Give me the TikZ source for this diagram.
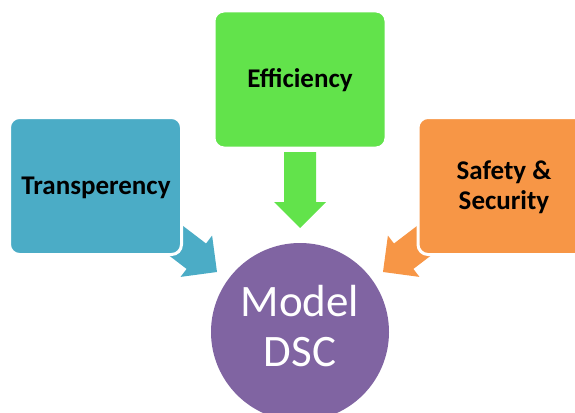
\documentclass[tikz,border=0pt]{standalone}
\usepackage{fontspec}
\setmainfont{Carlito}
\usetikzlibrary{calc}
\definecolor{cblue}{HTML}{4BACC6}
\definecolor{cgreen}{HTML}{62E34B}
\definecolor{corange}{HTML}{F79646}
\definecolor{cpurple}{HTML}{8064A2}
\newcommand{\blockarr}[3]{%
  \path ($(#2)!26pt!(#1)$) coordinate (hb);
  \fill[#3] (#2) -- ($(hb)!26pt!90:(#2)$) -- ($(hb)!16pt!90:(#2)$)
    -- ($(#1)!16pt!90:(hb)$) -- ($(#1)!16pt!-90:(hb)$)
    -- ($(hb)!16pt!-90:(#2)$) -- ($(hb)!26pt!-90:(#2)$) -- cycle;}
\tikzset{
  box/.style={draw=white, line width=3pt, rounded corners=10pt,
    minimum width=172pt, minimum height=137pt, inner sep=0pt},
  lbl/.style={font=\fontsize{27}{30}\selectfont\bfseries, text=black,
    align=center, anchor=base, inner sep=0pt},
}
\begin{document}
\begin{tikzpicture}[x=1pt, y=-1pt]
\useasboundingbox (0,0) rectangle (575,412);
\clip (0,0) rectangle (575,412);
% arrows (behind boxes)
\coordinate (bs) at (156.6,225.9);
\coordinate (bt) at (217,272);
\coordinate (gs) at (300,152);
\coordinate (gt) at (300,228);
\coordinate (os) at (443.4,225.9);
\coordinate (ot) at (383,272);
\blockarr{bs}{bt}{cblue}
\blockarr{gs}{gt}{cgreen}
\blockarr{os}{ot}{corange}
% boxes
\node[box, fill=cblue] (tb) at (95.5,186) {};
\node[box, fill=cgreen] (eb) at (300,79.5) {};
\node[box, fill=corange] (sb) at (504,186) {};
% circle
\node[circle, fill=cpurple, minimum size=178pt, inner sep=0pt] (mc) at (300,332) {};
% labels
\node[lbl] (tl) at (96,194) {Transperency};
\node[lbl] (el) at (300,87) {Efficiency};
\node[lbl] (sl) at (504,209) {Safety \&\\Security};
\node[anchor=base, align=center, text=white, inner sep=0pt,
  font=\fontsize{45}{50}\selectfont] (ml) at (300,366) {Model\\DSC};
\end{tikzpicture}
\end{document}
